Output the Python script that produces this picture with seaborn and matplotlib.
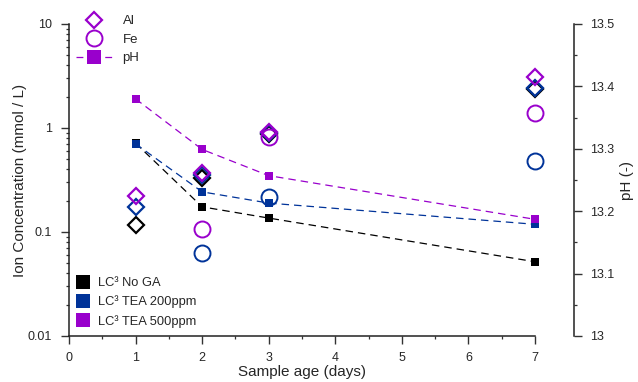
import numpy as np
import pandas as pd
import matplotlib
matplotlib.use("Agg")
import matplotlib.pyplot as plt
from matplotlib.lines import Line2D
from matplotlib.ticker import FixedLocator, FuncFormatter, NullFormatter, LogLocator
import seaborn as sns

# ---------------- data ----------------
days = [1, 2, 3, 7]
series = ["LC³ No GA", "LC³ TEA 200ppm", "LC³ TEA 500ppm"]
colors = ["#000000", "#003399", "#9900cc"]

ph_no_ga = [13.309, 13.207, 13.189, 13.119]
ph_tea200 = [13.308, 13.231, 13.213, 13.179]
ph_tea500 = [13.380, 13.299, 13.257, 13.187]

al_days = [1, 2, 3, 7]
al_no_ga = [0.117, 0.328, 0.875, 2.37]
al_tea200 = [0.173, 0.354, 0.90, 2.40]
al_tea500 = [0.222, 0.371, 0.92, 3.09]

fe_days = [2, 3, 7]
fe_tea200 = [0.063, 0.215, 0.485]
fe_tea500 = [0.108, 0.826, 1.39]

x_ticks = [0, 1, 2, 3, 4, 5, 6, 7]
y_ticks = [0.01, 0.1, 1, 10]
y_tick_labels = ["0.01", "0.1", "1", "10"]
ph_ticks = [13.0, 13.1, 13.2, 13.3, 13.4, 13.5]

# ---------------- style ----------------
sns.set_theme(style="ticks")
plt.rcParams["font.family"] = ["Liberation Sans", "DejaVu Sans"]

fig = plt.figure(figsize=(6.38, 3.82), dpi=100)
ax = fig.add_axes([69 / 638, 1 - 336 / 382, 466 / 638, 312 / 382])
ax2 = ax.twinx()

ph_df = pd.DataFrame({
    "day": days * 3,
    "pH": ph_no_ga + ph_tea200 + ph_tea500,
    "series": [series[0]] * 4 + [series[1]] * 4 + [series[2]] * 4,
})

# ion concentrations (open markers)
for vals, c in [(al_no_ga, colors[0]), (al_tea200, colors[1]), (al_tea500, colors[2])]:
    sns.lineplot(x=al_days, y=vals, ax=ax, linestyle="none", marker="D",
                 markersize=8, markerfacecolor="none", markeredgecolor=c,
                 markeredgewidth=1.6, color=c, estimator=None, sort=False,
                 clip_on=False)
for vals, c in [(fe_tea200, colors[1]), (fe_tea500, colors[2])]:
    sns.lineplot(x=fe_days, y=vals, ax=ax, linestyle="none", marker="o",
                 markersize=11.5, markerfacecolor="none", markeredgecolor=c,
                 markeredgewidth=1.4, color=c, estimator=None, sort=False,
                 clip_on=False)

# pH lines
for s, c in zip(series, colors):
    d = ph_df[ph_df["series"] == s]
    sns.lineplot(data=d, x="day", y="pH", ax=ax2, color=c, linewidth=0.9,
                 marker="s", markersize=6.2, markeredgewidth=0,
                 estimator=None, sort=False, clip_on=False)
for l in ax2.get_lines():
    l.set_dashes([6, 4])

# axes limits/scales
ax.set_yscale("log")
ax.set_ylim(0.01, 10)
ax.set_xlim(0, 7)
ax2.set_ylim(13.0, 13.5)

ax.xaxis.set_major_locator(FixedLocator(x_ticks))
ax.xaxis.set_minor_locator(FixedLocator(np.arange(0.5, 7, 1.0)))
ax.yaxis.set_major_locator(FixedLocator(y_ticks))
ax.yaxis.set_major_formatter(FuncFormatter(lambda v, p: y_tick_labels[y_ticks.index(v)] if v in y_ticks else ""))
ax.yaxis.set_minor_locator(LogLocator(base=10, subs=np.arange(2, 10)))
ax.yaxis.set_minor_formatter(NullFormatter())

ax2.yaxis.set_major_locator(FixedLocator(ph_ticks))
ax2.yaxis.set_minor_locator(FixedLocator(np.arange(13.05, 13.5, 0.1)))
ax2.yaxis.set_major_formatter(FuncFormatter(lambda v, p: f"{v:g}"))

for a in (ax, ax2):
    a.tick_params(which="major", direction="out", length=5.5, width=1, labelsize=9,
                  color="#333333", pad=6.5)
    a.tick_params(which="minor", direction="out", length=2.5, width=0.9, color="#333333")
ax.tick_params(axis="x", which="major", pad=6)

ax.spines["top"].set_visible(False)
ax.spines["right"].set_visible(False)
ax2.spines["top"].set_visible(False)
ax2.spines["left"].set_visible(False)
ax2.spines["bottom"].set_visible(False)
ax2.spines["right"].set_position(("outward", 28))
for a in (ax, ax2):
    for sp in a.spines.values():
        sp.set_linewidth(1.1)
        sp.set_color("#222222")

ax.set_xlabel("Sample age (days)", fontsize=11, labelpad=0.5)
ax.set_ylabel("Ion Concentration (mmol / L)", fontsize=11, labelpad=1)
ax2.set_ylabel("pH (-)", fontsize=11, labelpad=4)

purple = colors[2]
h_top = [
    Line2D([], [], marker="D", linestyle="none", markersize=8, markerfacecolor="none",
           markeredgecolor=purple, markeredgewidth=1.6),
    Line2D([], [], marker="o", linestyle="none", markersize=11.5, markerfacecolor="none",
           markeredgecolor=purple, markeredgewidth=1.4),
    Line2D([], [], marker="s", linestyle=(0, (5.5, 17.5)), color=purple, linewidth=0.9,
           markersize=10, markeredgewidth=0),
]
leg1 = fig.legend(h_top, ["Al", "Fe", "pH"], loc="upper left",
                  bbox_to_anchor=(76 / 638, 1 - 15 / 382), frameon=False, fontsize=9.5,
                  handlelength=2.7, handletextpad=0.83, labelspacing=0.48,
                  borderpad=0, borderaxespad=0)

h_bot = [Line2D([], [], marker="s", linestyle="none", markersize=10.5, color=c,
                markeredgewidth=0) for c in colors]
leg2 = fig.legend(h_bot, series, loc="upper left",
                  bbox_to_anchor=(75 / 638, 1 - 277 / 382), frameon=False, fontsize=9.3,
                  handlelength=1.2, handletextpad=0.55, labelspacing=0.5,
                  borderpad=0, borderaxespad=0)

fig.savefig("out.png", dpi=100)
